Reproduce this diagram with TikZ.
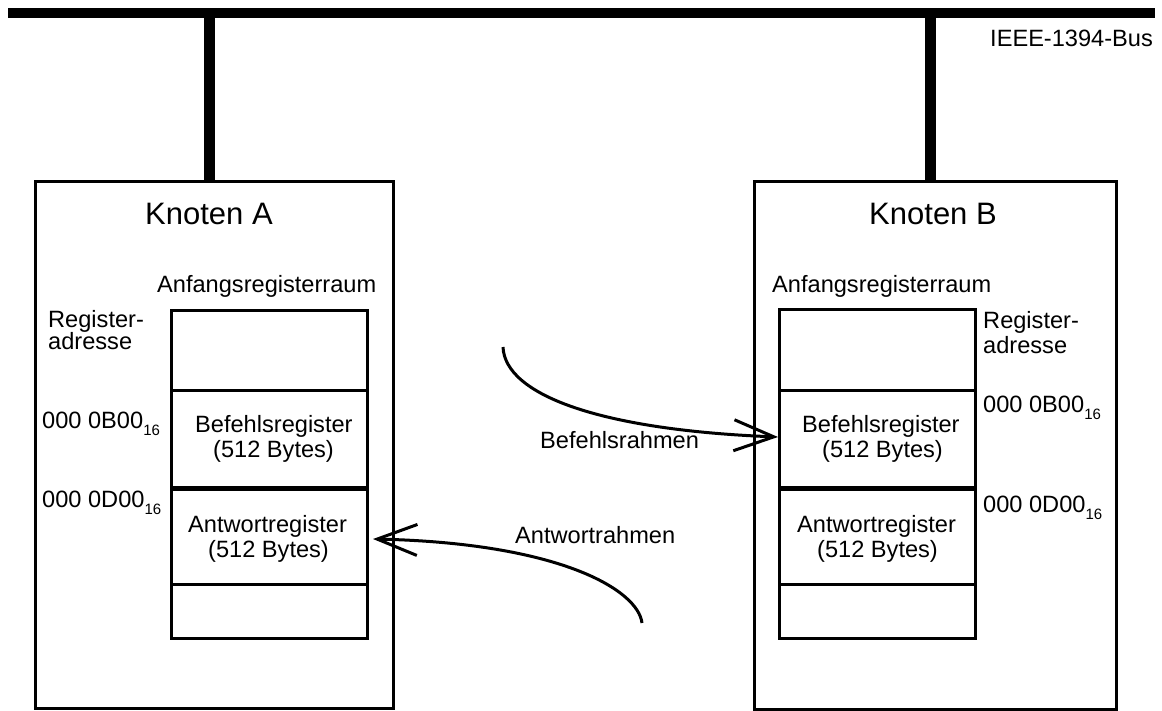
\documentclass[tikz,border=0pt]{standalone}
\usepackage{fontspec}
\setmainfont{Liberation Sans}
\usetikzlibrary{arrows.meta}
\newcommand\hexsub{\raisebox{-0.3em}{\fontsize{15}{15}\selectfont 16}}
\begin{document}
\begin{tikzpicture}[x=1pt,y=-1pt,
  txt/.style={font=\fontsize{23.6}{28}\selectfont, inner sep=0pt, anchor=base west},
  title/.style={font=\fontsize{31}{36}\selectfont, inner sep=0pt, anchor=base},
  nodebox/.style={draw, line width=3pt, anchor=north west, inner sep=0pt},
  cell/.style={draw, line width=3pt, anchor=north west, inner sep=0pt, minimum width=196pt},
  frame/.style={line width=3pt, -{Straight Barb[length=40pt,width=31pt]}},
]
\useasboundingbox (0,0) rectangle (1162,711);

% bus line with the two taps
\coordinate (busL) at (8,13);
\coordinate (busR) at (1155,13);
\coordinate (tapA) at (209.5,13);
\coordinate (tapB) at (930,13);
\node[txt] (busname) at (990,47) {IEEE-1394-Bus};

% the two nodes
\node[nodebox, minimum width=358pt, minimum height=527pt] (boxA) at (34,180) {};
\node[nodebox, minimum width=362pt, minimum height=528pt] (boxB) at (753,180) {};
\draw[line width=10pt] (busL) -- (busR);
\draw[line width=11pt] (tapA) -- (tapA |- boxA.north);
\draw[line width=11pt] (tapB) -- (tapB |- boxB.north);

\node[title] (titleA) at (209,225) {Knoten A};
\node[title] (titleB) at (933,225) {Knoten B};

% register space of node A
\node[txt] (spaceA) at (157,293) {Anfangsregisterraum};
\node[cell, minimum height=80pt] (rA1) at (170,309) {};
\node[cell, minimum height=99pt] (rA2) at (170,389) {};
\node[cell, minimum height=95pt] (rA3) at (170,488) {};
\node[cell, minimum height=54pt] (rA4) at (170,583) {};
\draw[line width=5pt] (rA3.north west) -- (rA3.north east);
\node[txt] (adrA1) at (48,327) {Register-};
\node[txt] (adrA2) at (48,349) {adresse};
\node[txt] (hexA1) at (42,428) {000 0B00\hexsub};
\node[txt] (hexA2) at (42,507) {000 0D00\hexsub};
\node[txt] (cmdA1) at (195,432) {Befehlsregister};
\node[txt] (cmdA2) at (213,457) {(512 Bytes)};
\node[txt] (rspA1) at (188,532) {Antwortregister};
\node[txt] (rspA2) at (208,557) {(512 Bytes)};

% register space of node B
\node[txt] (spaceB) at (772,293) {Anfangsregisterraum};
\node[cell, minimum height=81pt] (rB1) at (778,308) {};
\node[cell, minimum height=99pt] (rB2) at (778,389) {};
\node[cell, minimum height=95pt] (rB3) at (778,488) {};
\node[cell, minimum height=54pt] (rB4) at (778,583) {};
\draw[line width=5pt] (rB3.north west) -- (rB3.north east);
\node[txt] (adrB1) at (983,328) {Register-};
\node[txt] (adrB2) at (983,353) {adresse};
\node[txt] (hexB1) at (983,412) {000 0B00\hexsub};
\node[txt] (hexB2) at (983,512) {000 0D00\hexsub};
\node[txt] (cmdB1) at (802,432) {Befehlsregister};
\node[txt] (cmdB2) at (822,457) {(512 Bytes)};
\node[txt] (rspB1) at (797,532) {Antwortregister};
\node[txt] (rspB2) at (817,557) {(512 Bytes)};

% command and response frames
\coordinate (cmdStart) at (503,347);
\coordinate (rspStart) at (642,623);
\draw[frame] (cmdStart) .. controls (505,395) and (600,430) .. ([yshift=3pt]rB2.west);
\draw[frame] (rspStart) .. controls (638,590) and (560,543) .. ([xshift=4pt,yshift=-2pt]rA3.east);
\node[txt] (cmdLabel) at (540,448) {Befehlsrahmen};
\node[txt] (rspLabel) at (515,543) {Antwortrahmen};
\end{tikzpicture}
\end{document}
